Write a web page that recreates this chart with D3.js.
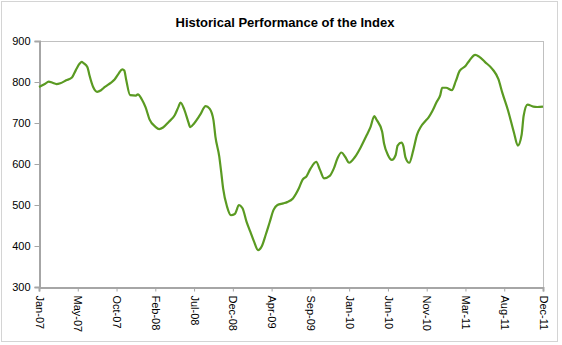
<!DOCTYPE html>
<html><head><meta charset="utf-8">
<script src="https://cdn.jsdelivr.net/npm/d3@7"></script>
<style>
html,body{margin:0;padding:0;background:#fff;}
text{font-family:"Liberation Sans",Arial,sans-serif;fill:#000;}
</style></head>
<body><svg id="c" width="562" height="345"></svg>
<script>
const title = "Historical Performance of the Index";
const tickWeeks = [0,20,40,60,80,100,120,140,160,180,200,220,240,260];
const tickLabels = ["Jan-07","May-07","Oct-07","Feb-08","Jul-08","Dec-08","Apr-09","Sep-09","Jan-10","Jun-10","Nov-10","Mar-11","Aug-11","Dec-11"];
const yTicks = [300,400,500,600,700,800,900];
const weeks = [0,3,5,7,9,11,14,17,19,21,22,23,25,26,28,30,32,34,37,39,41,43,44,45,47,50,51,53,55,57,60,62,64,67,70,72,73,75,77,78,80,83,86,88,90,91,93,94,95,97,99,101,102,103,105,107,109,111,113,115,117,119,121,123,126,128,131,134,136,138,140,143,145,147,150,152,154,156,158,160,163,166,169,171,173,174,177,178,180,182,184,185,187,188,189,191,193,195,197,199,201,203,205,207,208,210,213,215,217,220,222,225,227,230,234,237,239,242,245,247,249,250,252,255,257,260];
const values = [788,795,801,798,795,797,804,811,829,845,849,846,836,817,787,776,780,788,798,806,820,831,828,805,768,767,770,758,738,709,691,685,689,703,719,740,750,732,703,690,699,719,741,735,707,667,618,580,540,496,475,478,488,500,492,460,435,410,390,400,428,458,488,500,504,507,516,540,562,570,588,605,585,565,571,588,614,628,617,603,617,641,670,690,717,709,679,650,622,610,622,645,652,643,617,603,632,671,691,703,714,730,750,768,786,786,780,802,827,839,852,866,862,849,831,807,774,730,677,645,672,717,745,740,739,740];

const data = weeks.map((w,i)=>({w, v: values[i]}));
const svg = d3.select("#c");
const W=562,H=345;
const m = {left:39, right:19, top:41, bottom:58};
const pw = W-m.left-m.right, ph = H-m.top-m.bottom;

svg.append("rect").attr("x",1.5).attr("y",1.5).attr("width",556).attr("height",340)
  .attr("fill","#fff").attr("stroke","#d4d4d4").attr("stroke-width",1);

svg.append("text").attr("x",285).attr("y",27).attr("text-anchor","middle")
  .style("font-size","13px").style("font-weight","bold").text(title);

const x = d3.scaleLinear().domain([0,260]).range([m.left, m.left+504]);
const y = d3.scaleLinear().domain([300,900]).range([m.top+ph, m.top]);

const g = svg.append("g");
g.append("rect").attr("x",m.left+0.5).attr("y",m.top+0.5).attr("width",504).attr("height",ph)
  .attr("fill","none").attr("stroke","#c0c0c0");

const yAxis = g.append("g").attr("transform",`translate(${m.left+0.5},0)`)
  .call(d3.axisLeft(y).tickValues(yTicks).tickSize(5).tickPadding(4).tickFormat(d3.format("d")));
yAxis.select(".domain").attr("stroke","#a6a6a6").attr("stroke-width",2);
yAxis.selectAll(".tick line").attr("stroke","#a6a6a6");
yAxis.selectAll("text").style("font-size","11px").attr("fill","#000");

const xAxis = g.append("g").attr("transform",`translate(0,${m.top+ph+0.5})`)
  .call(d3.axisBottom(x).tickValues(tickWeeks).tickSize(4).tickFormat((d,i)=>tickLabels[i]));
xAxis.select(".domain").attr("stroke","#a6a6a6").attr("stroke-width",2);
xAxis.selectAll(".tick line").attr("stroke","#a6a6a6");
xAxis.selectAll("text").style("font-size","11px").attr("fill","#000")
  .attr("text-anchor","start").attr("dy","0.35em")
  .attr("transform","translate(0,8) rotate(90)").attr("x",0).attr("y",0);

const line = d3.line().x(d=>x(d.w)).y(d=>y(d.v)).curve(d3.curveMonotoneX);
g.append("path").datum(data).attr("d",line).attr("fill","none")
  .attr("stroke","#5a9a22").attr("stroke-width",2.2).attr("stroke-linejoin","round");
</script></body></html>
